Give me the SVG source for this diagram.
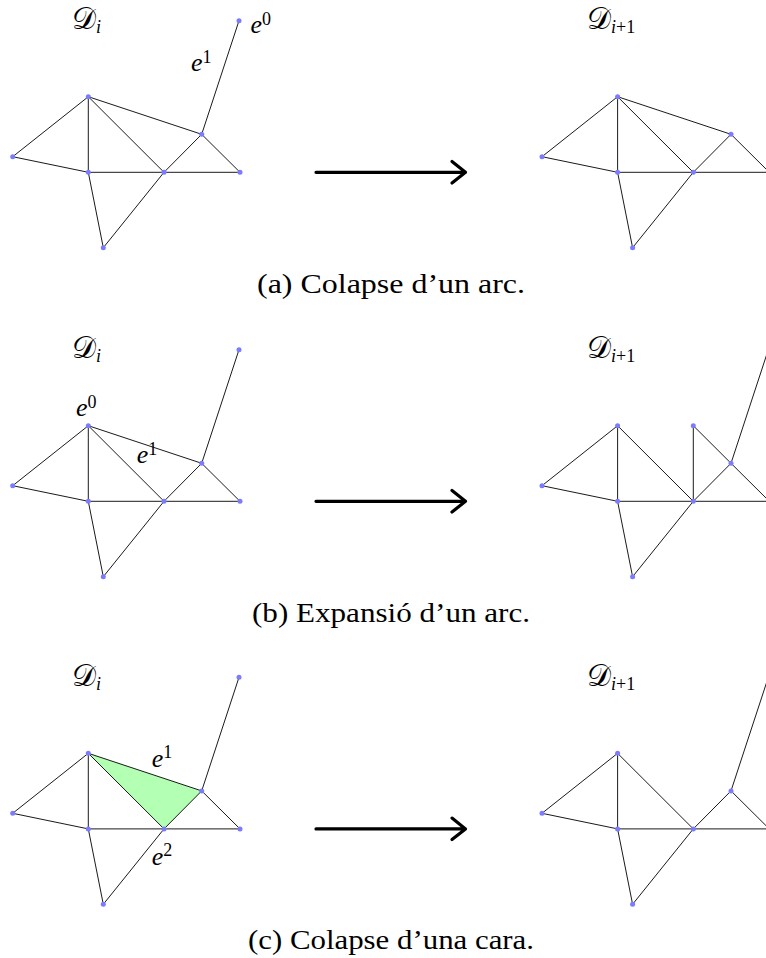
<svg xmlns="http://www.w3.org/2000/svg" width="766" height="958" viewBox="0 0 766 958">
  <style>
    .edge { stroke: #000; stroke-width: 0.9; fill: none; stroke-linecap: round; }
    .dot { fill: #7b7bff; }
    .face { fill: #b3ffb3; stroke: none; }
    .lbl { font-family: "Liberation Serif", "Times New Roman", serif; font-style: italic; font-size: 26px; fill: #000; }
    .cal { font-family: "DejaVu Serif", "Liberation Serif", serif; font-style: normal; font-size: 30px; fill: #000; }
    .sub { font-family: "Liberation Serif", "Times New Roman", serif; font-style: normal; font-size: 18px; fill: #000; }
    .subi { font-family: "Liberation Serif", "Times New Roman", serif; font-style: italic; font-size: 18px; fill: #000; }
    .cap { font-family: "Liberation Serif", "Times New Roman", serif; font-size: 27px; fill: #000; }
    .arrow { stroke: #000; stroke-width: 3.2; fill: none; stroke-linecap: round; stroke-linejoin: round; }
  </style>

  <!-- ===== Panel (a) ===== -->
  <g id="panel-a">
    <g id="a-connectors">
      <line class="edge" x1="88.3" y1="96.7" x2="12.7" y2="156.7"/>
      <line class="edge" x1="88.3" y1="96.7" x2="88.3" y2="172.3"/>
      <line class="edge" x1="88.3" y1="96.7" x2="164" y2="172.3"/>
      <line class="edge" x1="88.3" y1="96.7" x2="201.7" y2="134.3"/>
      <line class="edge" x1="12.7" y1="156.7" x2="88.3" y2="172.3"/>
      <line class="edge" x1="88.3" y1="172.3" x2="240" y2="172.3"/>
      <line class="edge" x1="164" y1="172.3" x2="201.7" y2="134.3"/>
      <line class="edge" x1="201.7" y1="134.3" x2="240" y2="172.3"/>
      <line class="edge" x1="201.7" y1="134.3" x2="239" y2="20.7"/>
      <line class="edge" x1="88.3" y1="172.3" x2="103.3" y2="247.7"/>
      <line class="edge" x1="103.3" y1="247.7" x2="164" y2="172.3"/>

      <line class="edge" x1="617.6" y1="96.7" x2="542" y2="156.7"/>
      <line class="edge" x1="617.6" y1="96.7" x2="617.6" y2="172.3"/>
      <line class="edge" x1="617.6" y1="96.7" x2="693.3" y2="172.3"/>
      <line class="edge" x1="617.6" y1="96.7" x2="731" y2="134.3"/>
      <line class="edge" x1="542" y1="156.7" x2="617.6" y2="172.3"/>
      <line class="edge" x1="617.6" y1="172.3" x2="769.3" y2="172.3"/>
      <line class="edge" x1="693.3" y1="172.3" x2="731" y2="134.3"/>
      <line class="edge" x1="731" y1="134.3" x2="769.3" y2="172.3"/>
      <line class="edge" x1="617.6" y1="172.3" x2="632.6" y2="247.7"/>
      <line class="edge" x1="632.6" y1="247.7" x2="693.3" y2="172.3"/>

      <path class="arrow" d="M316,172.3 H465.5 M452,161.5 L465.5,172.3 L452,183"/>
    </g>
    <g id="a-l-A"><circle class="dot" cx="88.3" cy="96.7" r="2.5"/></g>
    <g id="a-l-L"><circle class="dot" cx="12.7" cy="156.7" r="2.5"/></g>
    <g id="a-l-M"><circle class="dot" cx="88.3" cy="172.3" r="2.5"/></g>
    <g id="a-l-C"><circle class="dot" cx="164" cy="172.3" r="2.5"/></g>
    <g id="a-l-R"><circle class="dot" cx="240" cy="172.3" r="2.5"/></g>
    <g id="a-l-P"><circle class="dot" cx="201.7" cy="134.3" r="2.5"/></g>
    <g id="a-l-B"><circle class="dot" cx="103.3" cy="247.7" r="2.5"/></g>
    <g id="a-l-T"><circle class="dot" cx="239" cy="20.7" r="2.5"/></g>

    <g id="a-r-A"><circle class="dot" cx="617.6" cy="96.7" r="2.5"/></g>
    <g id="a-r-L"><circle class="dot" cx="542" cy="156.7" r="2.5"/></g>
    <g id="a-r-M"><circle class="dot" cx="617.6" cy="172.3" r="2.5"/></g>
    <g id="a-r-C"><circle class="dot" cx="693.3" cy="172.3" r="2.5"/></g>
    <g id="a-r-P"><circle class="dot" cx="731" cy="134.3" r="2.5"/></g>
    <g id="a-r-B"><circle class="dot" cx="632.6" cy="247.7" r="2.5"/></g>

    <text class="cal" x="72" y="29">𝒟<tspan class="subi" dy="4">i</tspan></text>
    <text class="cal" x="587" y="29">𝒟<tspan class="subi" dy="4">i</tspan><tspan class="sub">+1</tspan></text>
    <text class="lbl" x="250.5" y="33.3">e<tspan class="sub" dy="-8.5">0</tspan></text>
    <text class="lbl" x="191" y="71">e<tspan class="sub" dy="-8.5">1</tspan></text>
    <text class="cap" x="257" y="292.7" textLength="268" lengthAdjust="spacingAndGlyphs">(a) Colapse d’un arc.</text>
  </g>

  <!-- ===== Panel (b) ===== -->
  <g id="panel-b" transform="translate(0,329)">
    <g id="b-connectors">
      <line class="edge" x1="88.3" y1="96.7" x2="12.7" y2="156.7"/>
      <line class="edge" x1="88.3" y1="96.7" x2="88.3" y2="172.3"/>
      <line class="edge" x1="88.3" y1="96.7" x2="164" y2="172.3"/>
      <line class="edge" x1="88.3" y1="96.7" x2="201.7" y2="134.3"/>
      <line class="edge" x1="12.7" y1="156.7" x2="88.3" y2="172.3"/>
      <line class="edge" x1="88.3" y1="172.3" x2="240" y2="172.3"/>
      <line class="edge" x1="164" y1="172.3" x2="201.7" y2="134.3"/>
      <line class="edge" x1="201.7" y1="134.3" x2="240" y2="172.3"/>
      <line class="edge" x1="201.7" y1="134.3" x2="239" y2="20.7"/>
      <line class="edge" x1="88.3" y1="172.3" x2="103.3" y2="247.7"/>
      <line class="edge" x1="103.3" y1="247.7" x2="164" y2="172.3"/>

      <line class="edge" x1="617.6" y1="96.7" x2="542" y2="156.7"/>
      <line class="edge" x1="617.6" y1="96.7" x2="617.6" y2="172.3"/>
      <line class="edge" x1="617.6" y1="96.7" x2="693.3" y2="172.3"/>
      <line class="edge" x1="693.3" y1="96.7" x2="693.3" y2="172.3"/>
      <line class="edge" x1="693.3" y1="96.7" x2="731" y2="134.3"/>
      <line class="edge" x1="542" y1="156.7" x2="617.6" y2="172.3"/>
      <line class="edge" x1="617.6" y1="172.3" x2="769.3" y2="172.3"/>
      <line class="edge" x1="693.3" y1="172.3" x2="731" y2="134.3"/>
      <line class="edge" x1="731" y1="134.3" x2="769.3" y2="172.3"/>
      <line class="edge" x1="731" y1="134.3" x2="768.3" y2="20.7"/>
      <line class="edge" x1="617.6" y1="172.3" x2="632.6" y2="247.7"/>
      <line class="edge" x1="632.6" y1="247.7" x2="693.3" y2="172.3"/>

      <path class="arrow" d="M316,172.3 H465.5 M452,161.5 L465.5,172.3 L452,183"/>
    </g>
    <g id="b-l-A"><circle class="dot" cx="88.3" cy="96.7" r="2.5"/></g>
    <g id="b-l-L"><circle class="dot" cx="12.7" cy="156.7" r="2.5"/></g>
    <g id="b-l-M"><circle class="dot" cx="88.3" cy="172.3" r="2.5"/></g>
    <g id="b-l-C"><circle class="dot" cx="164" cy="172.3" r="2.5"/></g>
    <g id="b-l-R"><circle class="dot" cx="240" cy="172.3" r="2.5"/></g>
    <g id="b-l-P"><circle class="dot" cx="201.7" cy="134.3" r="2.5"/></g>
    <g id="b-l-B"><circle class="dot" cx="103.3" cy="247.7" r="2.5"/></g>
    <g id="b-l-T"><circle class="dot" cx="239" cy="20.7" r="2.5"/></g>

    <g id="b-r-A"><circle class="dot" cx="617.6" cy="96.7" r="2.5"/></g>
    <g id="b-r-A2"><circle class="dot" cx="693.3" cy="96.7" r="2.5"/></g>
    <g id="b-r-L"><circle class="dot" cx="542" cy="156.7" r="2.5"/></g>
    <g id="b-r-M"><circle class="dot" cx="617.6" cy="172.3" r="2.5"/></g>
    <g id="b-r-C"><circle class="dot" cx="693.3" cy="172.3" r="2.5"/></g>
    <g id="b-r-P"><circle class="dot" cx="731" cy="134.3" r="2.5"/></g>
    <g id="b-r-B"><circle class="dot" cx="632.6" cy="247.7" r="2.5"/></g>

    <text class="cal" x="72" y="29">𝒟<tspan class="subi" dy="4">i</tspan></text>
    <text class="cal" x="587" y="29">𝒟<tspan class="subi" dy="4">i</tspan><tspan class="sub">+1</tspan></text>
    <text class="lbl" x="76" y="87">e<tspan class="sub" dy="-8.5">0</tspan></text>
    <text class="lbl" x="136.7" y="134.3">e<tspan class="sub" dy="-8.5">1</tspan></text>
    <text class="cap" x="252" y="292.7" textLength="278" lengthAdjust="spacingAndGlyphs">(b) Expansió d’un arc.</text>
  </g>

  <!-- ===== Panel (c) ===== -->
  <g id="panel-c" transform="translate(0,656.6)">
    <g id="c-face"><polygon class="face" points="88.3,96.7 201.7,134.3 164,172.3"/></g>
    <g id="c-connectors">
      <line class="edge" x1="88.3" y1="96.7" x2="12.7" y2="156.7"/>
      <line class="edge" x1="88.3" y1="96.7" x2="88.3" y2="172.3"/>
      <line class="edge" x1="88.3" y1="96.7" x2="164" y2="172.3"/>
      <line class="edge" x1="88.3" y1="96.7" x2="201.7" y2="134.3"/>
      <line class="edge" x1="12.7" y1="156.7" x2="88.3" y2="172.3"/>
      <line class="edge" x1="88.3" y1="172.3" x2="240" y2="172.3"/>
      <line class="edge" x1="164" y1="172.3" x2="201.7" y2="134.3"/>
      <line class="edge" x1="201.7" y1="134.3" x2="240" y2="172.3"/>
      <line class="edge" x1="201.7" y1="134.3" x2="239" y2="20.7"/>
      <line class="edge" x1="88.3" y1="172.3" x2="103.3" y2="247.7"/>
      <line class="edge" x1="103.3" y1="247.7" x2="164" y2="172.3"/>

      <line class="edge" x1="617.6" y1="96.7" x2="542" y2="156.7"/>
      <line class="edge" x1="617.6" y1="96.7" x2="617.6" y2="172.3"/>
      <line class="edge" x1="617.6" y1="96.7" x2="693.3" y2="172.3"/>
      <line class="edge" x1="542" y1="156.7" x2="617.6" y2="172.3"/>
      <line class="edge" x1="617.6" y1="172.3" x2="769.3" y2="172.3"/>
      <line class="edge" x1="693.3" y1="172.3" x2="731" y2="134.3"/>
      <line class="edge" x1="731" y1="134.3" x2="769.3" y2="172.3"/>
      <line class="edge" x1="731" y1="134.3" x2="768.3" y2="20.7"/>
      <line class="edge" x1="617.6" y1="172.3" x2="632.6" y2="247.7"/>
      <line class="edge" x1="632.6" y1="247.7" x2="693.3" y2="172.3"/>

      <path class="arrow" d="M316,172.3 H465.5 M452,161.5 L465.5,172.3 L452,183"/>
    </g>
    <g id="c-l-A"><circle class="dot" cx="88.3" cy="96.7" r="2.5"/></g>
    <g id="c-l-L"><circle class="dot" cx="12.7" cy="156.7" r="2.5"/></g>
    <g id="c-l-M"><circle class="dot" cx="88.3" cy="172.3" r="2.5"/></g>
    <g id="c-l-C"><circle class="dot" cx="164" cy="172.3" r="2.5"/></g>
    <g id="c-l-R"><circle class="dot" cx="240" cy="172.3" r="2.5"/></g>
    <g id="c-l-P"><circle class="dot" cx="201.7" cy="134.3" r="2.5"/></g>
    <g id="c-l-B"><circle class="dot" cx="103.3" cy="247.7" r="2.5"/></g>
    <g id="c-l-T"><circle class="dot" cx="239" cy="20.7" r="2.5"/></g>

    <g id="c-r-A"><circle class="dot" cx="617.6" cy="96.7" r="2.5"/></g>
    <g id="c-r-L"><circle class="dot" cx="542" cy="156.7" r="2.5"/></g>
    <g id="c-r-M"><circle class="dot" cx="617.6" cy="172.3" r="2.5"/></g>
    <g id="c-r-C"><circle class="dot" cx="693.3" cy="172.3" r="2.5"/></g>
    <g id="c-r-P"><circle class="dot" cx="731" cy="134.3" r="2.5"/></g>
    <g id="c-r-B"><circle class="dot" cx="632.6" cy="247.7" r="2.5"/></g>

    <text class="cal" x="72" y="29">𝒟<tspan class="subi" dy="4">i</tspan></text>
    <text class="cal" x="587" y="29">𝒟<tspan class="subi" dy="4">i</tspan><tspan class="sub">+1</tspan></text>
    <text class="lbl" x="151.7" y="110.1">e<tspan class="sub" dy="-8.5">1</tspan></text>
    <text class="lbl" x="151.7" y="208.4">e<tspan class="sub" dy="-8.5">2</tspan></text>
    <text class="cap" x="248" y="292.7" textLength="286" lengthAdjust="spacingAndGlyphs">(c) Colapse d’una cara.</text>
  </g>
</svg>
